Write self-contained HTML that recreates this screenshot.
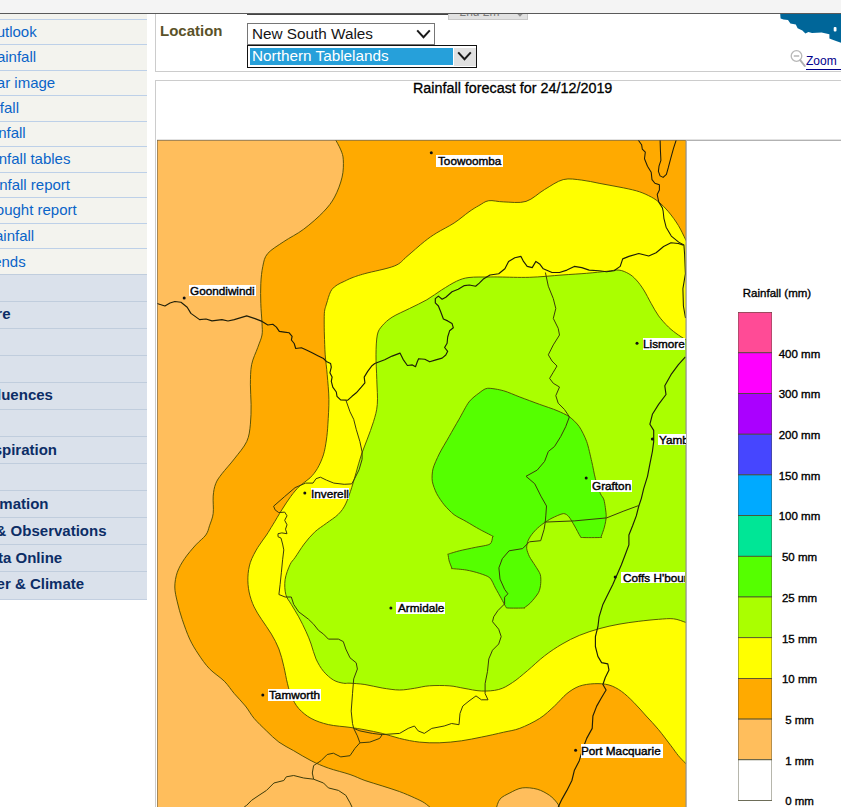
<!DOCTYPE html>
<html lang="en">
<head>
<meta charset="utf-8">
<title>Rainfall forecast</title>
<style>
html,body{margin:0;padding:0;background:#fff;}
body{width:841px;height:807px;position:relative;overflow:hidden;font-family:"Liberation Sans",Arial,sans-serif;}
.abs{position:absolute;}
#topbar{left:0;top:0;width:841px;height:13px;background:#f4f4f4;border-bottom:1px solid #5a5a5a;}
#side1{left:0;top:14px;width:147px;height:261px;background:#f3f3ee;}
#side2{left:0;top:275px;width:147px;height:324px;background:#dae1eb;border-bottom:1px solid #c3cfe0;}
.sl{position:absolute;left:0;width:147px;height:1px;background:#bdd0e8;}
.sl2{position:absolute;left:0;width:147px;height:1px;background:#c0cddd;}
.st{position:absolute;left:0;white-space:nowrap;font-size:15px;color:#0a64c8;line-height:18px;}
.sb{position:absolute;left:0;white-space:nowrap;font-size:15px;font-weight:bold;color:#0c2d66;line-height:18px;}
#locbox{left:155px;top:14px;width:700px;height:57px;border:1px solid #ccc;border-top:none;background:#fff;}
#mapbox{left:155px;top:80px;width:700px;height:740px;border:1px solid #ccc;background:#fff;}
#loc{left:160px;top:22px;font-size:15px;font-weight:bold;color:#5a5228;line-height:18px;}
.sel{position:absolute;box-sizing:border-box;background:#fff;font-size:15.3px;line-height:17px;color:#151515;white-space:nowrap;}
#title{left:413px;top:80px;font-size:14.35px;-webkit-text-stroke:0.3px #000;color:#000;line-height:16px;white-space:nowrap;}
.dot{position:absolute;width:2px;height:2px;background:#111;}
.lbl{position:absolute;background:#fff;font-size:11.3px;color:#000;white-space:nowrap;overflow:hidden;padding-left:1.4px;box-sizing:border-box;-webkit-text-stroke:0.4px #000;}
.lg{position:absolute;width:80px;text-align:center;font-size:11.5px;line-height:12px;color:#000;white-space:nowrap;-webkit-text-stroke:0.35px #000;}
.lbl span{display:inline-block;transform-origin:0 50%;transform:scaleX(1.04);}
</style>
</head>
<body>
<div id="topbar" class="abs"></div>

<div id="side1" class="abs"></div>
<div id="side2" class="abs"></div>
<div class="sl" style="top:19px"></div>
<div class="st" style="top:23px;left:auto;right:804.3px">outlook</div>
<div class="sl" style="top:44px"></div>
<div class="st" style="top:48px;left:auto;right:804.9px">rainfall</div>
<div class="sl" style="top:70px"></div>
<div class="st" style="top:74px;left:auto;right:785.8px">dar image</div>
<div class="sl" style="top:95px"></div>
<div class="st" style="top:99px;left:auto;right:822.0px">infall</div>
<div class="sl" style="top:121px"></div>
<div class="st" style="top:124px;left:auto;right:815.3px">ainfall</div>
<div class="sl" style="top:146px"></div>
<div class="st" style="top:150px;left:auto;right:770.6px">ainfall tables</div>
<div class="sl" style="top:172px"></div>
<div class="st" style="top:176px;left:auto;right:771.0px">ainfall report</div>
<div class="sl" style="top:197px"></div>
<div class="st" style="top:201px;left:auto;right:764.3px">rought report</div>
<div class="sl" style="top:223px"></div>
<div class="st" style="top:227px;left:auto;right:806.8px">rainfall</div>
<div class="sl" style="top:248px"></div>
<div class="st" style="top:253px;left:auto;right:815.3px">rends</div>
<div class="sl2" style="top:274px"></div>
<div class="sl2" style="top:301px"></div>
<div class="sb" style="top:305px;left:auto;right:830.5px">ture</div>
<div class="sl2" style="top:328px"></div>
<div class="sl2" style="top:355px"></div>
<div class="sl2" style="top:382px"></div>
<div class="sb" style="top:386px;left:auto;right:788.1px">fluences</div>
<div class="sl2" style="top:409px"></div>
<div class="sl2" style="top:436px"></div>
<div class="sb" style="top:441px;left:auto;right:784.0px">anspiration</div>
<div class="sl2" style="top:463px"></div>
<div class="sl2" style="top:490px"></div>
<div class="sb" style="top:495px;left:auto;right:792.5px">formation</div>
<div class="sl2" style="top:517px"></div>
<div class="sb" style="top:522px;left:auto;right:734.5px">s &amp; Observations</div>
<div class="sl2" style="top:544px"></div>
<div class="sb" style="top:549px;left:auto;right:778.8px">Data Online</div>
<div class="sl2" style="top:571px"></div>
<div class="sb" style="top:575px;left:auto;right:756.9px">ther &amp; Climate</div>

<div id="locbox" class="abs"></div>
<div id="mapbox" class="abs"></div>
<div id="loc" class="abs">Location</div>
<div id="title" class="abs">Rainfall forecast for 24/12/2019</div>


<!-- clipped controls at the top -->
<div class="abs" style="left:247px;top:14px;width:201px;height:1px;background:#444;"></div>
<div class="abs" style="left:448px;top:14px;width:80px;height:6px;box-sizing:border-box;background:#e1e1e1;border:1px solid #c8c8c8;border-top:none;overflow:hidden;">
  <div class="abs" style="left:10.5px;top:-8px;font-size:12px;line-height:12px;color:#7a7a7a;white-space:nowrap;">2nd 2m</div>
  <svg class="abs" style="left:66px;top:-3px" width="10" height="6" viewBox="0 0 10 6"><path d="M1 0.5 L5 4.5 L9 0.5" fill="none" stroke="#909090" stroke-width="1.6"/></svg>
</div>

<!-- state select -->
<div class="sel" style="left:247px;top:23px;width:188px;height:22px;border:1px solid #767676;">
  <span class="abs" style="left:4px;top:1px;">New South Wales</span>
  <svg class="abs" style="left:168px;top:5px" width="15" height="11" viewBox="0 0 15 11"><path d="M1.2 1.4 L7.5 8.2 L13.8 1.4" fill="none" stroke="#1a1a1a" stroke-width="2"/></svg>
</div>
<!-- district select (focused) -->
<div class="sel" style="left:247px;top:45px;width:230px;height:23px;border:1px solid #111;">
  <div class="abs" style="left:2px;top:2px;width:203px;height:17px;background:#26a0da;"></div>
  <div class="abs" style="left:206px;top:2px;width:22px;height:18px;background:#e1e1e1;"></div>
  <span class="abs" style="left:4px;top:1px;color:#fff;">Northern Tablelands</span>
  <svg class="abs" style="left:209.3px;top:5px" width="15" height="11" viewBox="0 0 15 11"><path d="M1.2 1.4 L7.5 8.2 L13.8 1.4" fill="none" stroke="#1a1a1a" stroke-width="2"/></svg>
</div>

<!-- thumbnail map fragment -->
<svg class="abs" style="left:775px;top:14px" width="66" height="34" viewBox="775 14 66 34">
  <path d="M780.2 14 L841 14 L841 42.8 L836 41 L832 39.6 L829.4 38.4 L829.4 34.2 L821.6 32.6 L812 33 L808.4 32 L805.4 33.6 L802.4 30.4 L797.6 28.2 L795.8 24.4 L790.4 23.4 L788 20 L783.5 19.6 L780.6 18.6 Z" fill="#006699"/>
  <rect x="833.7" y="27" width="2.8" height="4.6" rx="1" fill="#fff"/>
</svg>

<!-- zoom link -->
<svg class="abs" style="left:789px;top:48px" width="18" height="20" viewBox="0 0 18 20">
  <circle cx="7.5" cy="8" r="5.3" fill="#fff" stroke="#b8b8b8" stroke-width="1.3"/>
  <path d="M4.8 8 H10.2" stroke="#b0b0b0" stroke-width="1.4"/>
  <path d="M11.2 12.2 L15.8 18" stroke="#b0b0b0" stroke-width="2" stroke-linecap="round"/>
</svg>
<div class="abs" style="left:806px;top:54px;font-size:12px;line-height:14px;color:#00008b;white-space:nowrap;">Zoom</div>
<div class="abs" style="left:806px;top:68.5px;width:35px;height:1px;background:#00008b;"></div>

<svg class="abs" style="left:157px;top:140px" width="529" height="667" viewBox="157 140 529 667">
<rect x="157" y="140" width="529" height="667" fill="#ffbe5c"/>
<path d="M334.6 138.0C335.6 140.0 339.4 146.3 340.8 149.9C342.2 153.5 343.1 155.3 343.3 159.8C343.5 164.3 343.6 170.9 342.1 177.1C340.7 183.3 337.7 191.2 334.6 197.0C331.5 202.8 328.6 206.4 323.5 211.8C318.4 217.2 310.3 224.2 303.7 229.2C297.1 234.2 289.8 237.5 283.8 241.6C277.8 245.7 271.2 249.4 267.7 253.5C264.2 257.6 263.9 261.4 262.8 266.4C261.7 271.4 261.1 277.5 260.8 283.7C260.5 289.9 260.6 296.9 260.8 303.5C261.0 310.1 261.8 318.1 262.0 323.3C262.2 328.6 262.7 331.0 262.0 335.0C261.3 339.0 259.5 342.4 257.8 347.4C256.1 352.3 252.8 358.5 251.6 364.7C250.4 370.9 250.5 378.0 250.4 384.6C250.3 391.2 251.1 397.8 251.1 404.4C251.1 411.0 251.1 418.0 250.4 424.2C249.7 430.4 249.4 435.8 246.7 441.6C244.0 447.4 238.4 453.5 234.3 458.9C230.2 464.3 225.0 469.7 221.9 473.8C218.8 477.9 217.1 480.0 215.7 483.7C214.2 487.4 213.6 491.2 213.2 496.1C212.8 501.1 213.8 508.4 213.2 513.4C212.6 518.3 210.7 522.2 209.5 525.8C208.3 529.4 208.1 531.8 205.8 535.0C203.5 538.2 199.3 541.0 195.8 544.9C192.3 548.8 187.8 554.0 184.7 558.5C181.6 563.0 179.0 567.5 177.3 572.2C175.7 577.0 174.8 582.0 174.8 587.0C174.8 592.0 176.1 596.5 177.3 601.9C178.5 607.3 180.1 613.1 182.2 619.3C184.3 625.5 187.0 633.3 189.7 639.1C192.4 644.9 195.0 649.0 198.3 654.0C201.6 659.0 205.2 664.3 209.5 668.8C213.8 673.3 220.2 677.1 224.3 681.2C228.4 685.3 230.8 689.5 234.3 693.6C237.8 697.7 242.1 701.9 245.4 706.0C248.7 710.1 250.6 714.2 254.1 718.4C257.6 722.5 262.4 726.9 266.5 730.9C270.6 734.9 274.4 738.8 278.9 742.1C283.4 745.4 288.3 747.6 293.7 750.7C299.1 753.8 305.3 757.8 311.1 760.7C316.9 763.6 321.9 765.8 328.4 768.1C334.9 770.4 343.9 772.4 350.0 774.5C356.1 776.6 359.5 778.6 364.9 780.5C370.3 782.4 376.4 784.0 382.2 785.9C388.0 787.8 394.2 789.6 399.6 791.6C405.0 793.6 410.3 795.9 414.4 797.8C418.5 799.7 421.4 800.9 424.3 802.8C427.2 804.7 430.7 808.0 432.0 809.0L690.0 809.0L690.0 138.0Z" fill="#ffaa00" stroke="#4a4a00" stroke-width="0.9" stroke-linejoin="round"/>
<path d="M496.0 809.0C496.7 807.4 497.7 801.8 500.0 799.1C502.3 796.4 506.2 794.8 509.9 792.9C513.6 791.0 517.8 788.5 522.3 787.9C526.8 787.3 532.7 788.0 537.2 789.2C541.8 790.5 546.3 793.1 549.6 795.4C552.9 797.7 555.2 800.5 557.0 802.8C558.8 805.1 559.9 808.0 560.5 809.0Z" fill="#ffbe5c" stroke="#4a4a00" stroke-width="0.9" stroke-linejoin="round"/>
<path d="M688.0 244.0C687.6 243.2 687.0 242.2 685.4 239.1C683.8 236.0 681.2 230.1 678.4 225.5C675.6 220.9 671.8 215.7 668.5 211.8C665.2 207.9 661.9 204.6 658.6 201.9C655.3 199.2 652.4 197.5 648.7 195.7C645.0 193.8 641.2 192.2 636.3 190.8C631.3 189.4 625.2 188.2 619.0 187.0C612.8 185.8 605.3 184.5 599.1 183.3C592.9 182.2 587.8 180.7 581.8 180.1C575.8 179.5 569.4 178.0 563.2 179.6C557.0 181.2 550.8 185.9 544.6 189.5C538.4 193.1 532.8 199.3 526.0 201.4C519.2 203.5 509.9 202.0 503.7 201.9C497.5 201.8 492.9 200.1 488.8 200.7C484.7 201.3 482.2 203.8 478.9 205.6C475.6 207.4 473.1 208.9 469.0 211.8C464.9 214.7 459.5 219.5 454.1 223.0C448.7 226.5 441.7 229.8 436.7 232.9C431.7 236.0 429.2 237.7 424.3 241.6C419.4 245.5 411.9 252.3 407.0 256.4C402.1 260.4 401.6 263.0 394.6 265.9C387.6 268.8 372.0 271.6 364.9 273.6C357.8 275.6 355.4 276.5 352.0 277.8C348.6 279.1 347.1 280.0 344.6 281.2C342.1 282.4 339.3 283.5 337.2 284.9C335.1 286.2 333.3 287.7 332.0 289.3C330.7 290.9 330.1 292.6 329.4 294.5C328.6 296.4 328.1 298.5 327.5 300.5C326.9 302.5 326.2 304.5 325.7 306.4C325.2 308.2 324.8 309.0 324.5 311.6C324.2 314.2 324.2 318.1 324.2 322.0C324.2 325.9 324.2 329.5 324.4 335.0C324.6 340.5 324.7 348.2 325.2 354.8C325.7 361.4 326.6 367.3 327.2 374.7C327.8 382.1 328.8 391.1 328.9 399.4C329.0 407.6 328.3 417.4 327.9 424.2C327.5 431.0 327.1 434.9 326.4 440.0C325.6 445.1 324.9 450.2 323.4 454.9C321.9 459.6 319.7 464.5 317.5 468.3C315.3 472.1 313.0 474.9 310.0 477.9C307.0 480.9 302.8 483.0 299.6 486.1C296.4 489.2 293.7 492.5 290.7 496.5C287.7 500.5 284.8 505.2 281.8 509.9C278.8 514.6 275.4 520.6 272.8 524.8C270.2 529.0 269.0 531.2 266.5 535.0C264.0 538.8 260.5 542.9 257.8 547.4C255.1 551.9 252.1 557.3 250.4 562.3C248.8 567.2 248.1 572.1 247.9 577.1C247.7 582.1 248.1 587.0 249.1 592.0C250.1 597.0 252.0 602.4 254.1 606.9C256.2 611.4 258.6 614.8 261.5 619.3C264.4 623.8 268.5 629.1 271.4 634.1C274.3 639.1 276.8 643.6 278.9 649.0C281.0 654.4 282.4 660.6 283.8 666.4C285.2 672.2 286.2 678.8 287.5 683.7C288.8 688.7 289.4 692.0 291.3 696.1C293.2 700.2 295.4 704.8 298.7 708.5C302.0 712.2 306.2 715.7 311.1 718.4C316.1 721.1 321.9 723.1 328.4 724.6C334.9 726.1 343.9 726.5 350.0 727.4C356.1 728.3 359.5 728.8 364.9 729.8C370.3 730.8 376.4 732.0 382.2 733.4C388.0 734.8 393.4 736.9 399.6 738.4C405.8 739.9 412.8 741.4 419.4 742.1C426.0 742.8 432.2 743.0 439.2 742.8C446.2 742.6 454.5 741.8 461.5 740.8C468.5 739.8 474.4 738.5 481.4 737.1C488.4 735.7 497.3 733.7 503.7 732.2C510.1 730.7 513.8 730.6 519.8 728.3C525.8 726.0 533.9 722.1 539.7 718.4C545.5 714.7 550.0 710.1 554.5 706.0C559.0 701.9 562.8 696.9 566.9 693.6C571.0 690.3 574.8 687.9 579.3 686.2C583.8 684.6 589.2 683.9 594.2 683.7C599.2 683.5 604.5 683.7 609.0 685.0C613.5 686.3 617.3 688.4 621.4 691.3C625.5 694.2 629.7 698.3 633.8 702.4C637.9 706.5 642.1 711.5 646.2 716.0C650.3 720.5 654.5 724.7 658.6 729.7C662.7 734.7 667.7 741.5 671.0 745.8C674.3 750.1 676.0 752.8 678.4 755.7C680.8 758.6 683.8 761.4 685.4 763.1C687.0 764.8 687.6 765.5 688.0 766.0L690.0 766.0L690.0 244.0Z" fill="#ffff00" stroke="#4a4a00" stroke-width="0.9" stroke-linejoin="round"/>
<path d="M688.0 341.0C686.4 340.0 681.6 337.3 678.4 335.0C675.1 332.7 671.8 330.3 668.5 327.1C665.2 323.9 661.5 319.8 658.6 315.9C655.7 312.0 653.7 307.8 651.2 303.5C648.7 299.2 646.2 293.8 643.7 289.9C641.2 286.0 638.8 282.7 636.3 280.0C633.8 277.3 631.8 275.4 628.9 273.8C626.0 272.2 622.7 270.5 619.0 270.1C615.3 269.7 612.0 270.8 606.6 271.3C601.2 271.8 594.1 272.7 586.7 273.3C579.3 273.9 571.5 274.3 562.0 275.0C552.5 275.7 540.0 277.0 529.7 277.3C519.4 277.6 506.8 277.1 500.0 277.0C493.2 276.9 494.0 276.9 488.8 277.0C483.6 277.1 474.4 276.8 469.0 277.5C463.6 278.2 461.2 279.1 456.6 281.2C452.1 283.3 446.7 286.8 441.7 289.9C436.7 293.0 432.2 296.7 426.8 299.8C421.4 302.9 415.3 305.6 409.5 308.5C403.7 311.4 396.7 314.3 392.1 317.2C387.6 320.1 384.7 322.8 382.2 325.8C379.7 328.8 378.3 330.2 377.3 335.0C376.3 339.8 376.1 347.4 376.0 354.8C375.9 362.2 376.6 371.3 376.8 379.6C377.0 387.9 377.9 397.4 377.3 404.4C376.8 411.4 375.2 415.9 373.5 421.7C371.8 427.5 369.3 433.6 367.3 439.1C365.3 444.6 363.2 449.3 361.3 454.9C359.4 460.5 357.7 467.2 356.1 472.7C354.5 478.1 353.4 482.4 351.7 487.6C350.0 492.8 347.9 499.4 345.7 503.9C343.5 508.3 341.5 511.1 338.3 514.3C335.1 517.5 330.4 520.3 326.4 523.3C322.4 526.3 318.2 528.7 314.5 532.2C310.8 535.7 307.3 539.9 304.1 544.1C300.9 548.3 297.5 554.1 295.1 557.5C292.8 560.9 291.7 561.0 290.0 564.7C288.3 568.4 285.8 574.6 285.1 579.6C284.4 584.6 284.8 590.4 285.8 594.5C286.8 598.6 289.2 600.7 291.3 604.4C293.4 608.1 296.2 612.2 298.7 616.8C301.2 621.3 304.0 627.2 306.1 631.7C308.2 636.2 309.5 639.5 311.1 644.0C312.8 648.5 313.9 654.4 316.0 658.9C318.1 663.4 320.6 667.8 323.5 671.3C326.4 674.8 330.1 678.0 333.4 680.0C336.7 682.0 340.5 682.7 343.3 683.2C346.1 683.7 346.4 683.0 350.0 683.2C353.6 683.4 359.5 683.7 364.9 684.5C370.3 685.3 376.4 687.1 382.2 688.0C388.0 688.9 394.2 690.0 399.6 690.0C405.0 690.0 409.4 689.0 414.4 688.3C419.3 687.6 423.5 686.2 429.3 685.8C435.1 685.4 443.3 685.4 449.1 685.8C454.9 686.2 458.6 687.4 464.0 688.3C469.4 689.2 475.6 690.8 481.4 691.0C487.2 691.2 493.5 690.9 498.7 689.5C503.9 688.1 507.6 685.7 512.4 682.6C517.2 679.5 521.9 675.3 527.3 670.8C532.7 666.3 538.8 660.2 544.6 655.8C550.4 651.3 556.2 647.5 562.0 644.1C567.8 640.7 573.1 638.0 579.3 635.4C585.5 632.8 592.5 630.6 599.1 628.7C605.7 626.8 612.4 625.4 619.0 624.2C625.6 623.0 632.2 622.1 638.8 621.3C645.4 620.5 652.8 619.7 658.6 619.3C664.4 618.9 669.0 618.3 673.5 618.8C678.0 619.3 683.0 621.5 685.4 622.3C687.8 623.1 687.6 623.3 688.0 623.5L690.0 623.5L690.0 341.0Z" fill="#aaff00" stroke="#4a4a00" stroke-width="0.9" stroke-linejoin="round"/>
<path d="M487.5 388.3C490.8 388.0 499.4 389.6 503.7 390.8C508.0 392.0 515.0 395.2 519.8 397.0C524.6 398.8 534.7 402.6 539.7 404.4C544.7 406.2 553.0 408.9 557.0 410.6C561.0 412.3 566.4 414.7 569.4 416.8C572.4 418.9 577.0 423.4 579.3 426.7C581.6 430.0 585.0 437.0 586.7 441.6C588.4 446.2 590.5 456.5 591.7 461.4C592.9 466.3 594.2 474.4 595.4 478.7C596.6 483.0 599.3 490.8 600.4 493.6C601.5 496.4 603.2 497.0 604.0 500.0C604.8 503.0 606.1 512.2 606.2 515.8C606.3 519.4 605.1 524.3 604.4 527.1C603.7 529.9 601.7 535.1 601.2 536.5C600.7 537.9 603.1 537.4 600.6 537.5C598.1 537.6 585.2 537.7 582.5 537.5C579.8 537.3 581.3 537.7 580.2 536.2C579.1 534.7 576.1 528.6 574.6 526.0C573.1 523.4 570.5 518.6 569.0 516.9C567.5 515.2 565.6 513.4 563.3 513.6C561.0 513.8 554.7 516.8 552.0 518.1C549.3 519.4 545.1 522.2 543.0 523.7C540.9 525.2 537.9 527.7 536.2 529.4C534.5 531.1 531.6 534.5 530.5 536.2C529.4 537.9 528.1 540.1 527.6 541.8C527.1 543.5 526.5 546.6 526.7 548.6C526.9 550.6 528.3 554.2 529.4 556.5C530.5 558.8 533.6 563.1 535.1 565.5C536.6 567.9 539.6 572.2 540.3 574.6C541.0 577.0 540.9 581.2 540.7 583.6C540.5 586.0 539.9 590.0 538.5 592.6C537.1 595.2 532.4 600.8 530.5 602.8C528.6 604.8 525.4 606.9 524.5 607.6C523.6 608.3 526.0 607.9 523.8 608.0C521.6 608.1 510.3 608.2 507.9 608.0C505.5 607.8 506.6 607.9 505.7 606.6C504.8 605.3 502.6 600.8 501.2 598.3C499.8 595.8 497.0 590.8 495.5 588.1C494.0 585.4 492.0 579.9 489.9 577.9C487.8 575.9 482.9 574.5 479.7 573.4C476.5 572.3 469.8 570.6 466.2 570.0C462.6 569.4 454.4 568.8 452.5 568.6C450.6 568.4 452.3 569.2 451.9 568.2C451.5 567.2 449.7 562.8 449.2 561.0C448.7 559.2 448.2 555.5 448.1 554.6C448.0 553.7 447.1 554.5 448.6 554.0C450.1 553.5 455.9 551.7 459.4 550.8C462.9 549.9 471.1 548.3 475.2 547.4C479.3 546.5 487.6 545.5 489.9 544.1C492.2 542.7 492.3 537.9 492.6 536.8C492.9 535.7 494.1 537.0 492.4 536.0C490.7 535.0 483.2 531.3 479.7 529.4C476.2 527.5 469.6 523.5 466.2 521.5C462.8 519.5 457.0 516.9 454.1 514.7C451.2 512.5 446.5 507.6 444.2 504.8C441.9 502.0 438.3 496.7 436.7 493.6C435.1 490.5 432.8 484.5 432.3 481.2C431.8 477.9 432.1 472.4 433.0 468.8C433.9 465.2 437.1 458.3 439.2 454.0C441.3 449.7 446.5 441.2 449.1 436.6C451.7 432.0 456.3 423.9 459.0 419.3C461.7 414.7 466.3 405.4 469.0 401.9C471.7 398.4 476.4 395.0 478.9 393.2C481.4 391.4 484.2 388.6 487.5 388.3Z" fill="#55ff00" stroke="#4a4a00" stroke-width="0.9" stroke-linejoin="round"/>
<polyline points="157.0,303.5 164.9,306.0 170.0,303.0 174.8,301.5 181.0,302.3 187.2,307.2 190.9,313.4 199.6,319.6 206.0,319.0 212.0,320.9 221.9,319.6 228.0,321.0 234.3,319.6 246.7,315.9 255.0,318.6 262.1,321.4 267.8,325.0 272.8,324.3 276.4,327.1 279.3,331.4 284.3,332.1 289.2,332.8 292.1,336.4 291.4,340.0 294.2,343.5 295.7,348.5 301.4,347.8 306.4,350.0 312.1,352.8 317.8,355.7 323.5,358.5 326.3,361.4 330.6,363.5 331.3,367.1 329.9,372.8 332.1,377.1 331.3,381.3 332.8,387.1 336.3,392.0 337.0,396.3 340.6,399.9 347.8,400.2 352.0,396.3 356.3,392.8 361.3,387.1 364.9,382.8 364.2,377.1 367.7,371.4 372.0,365.7 374.8,363.5 384.7,359.8 392.1,356.1 400.0,353.1 403.1,359.3 407.4,365.5 412.4,364.9 415.5,366.7 417.3,361.8 418.6,358.7 424.8,359.3 429.7,361.8 435.9,359.9 442.1,358.1 445.8,355.0 447.7,351.3 444.6,347.5 447.1,343.2 447.7,337.0 449.6,330.8 453.3,327.7 452.0,323.4 447.7,320.9 443.4,319.0 440.9,312.2 438.4,306.0 435.3,302.9 435.3,298.6 438.4,296.1 442.1,299.2 445.8,297.3 452.0,291.8 458.2,289.3 464.4,285.6 469.4,285.0 475.6,286.2 479.3,283.1 483.8,278.7 490.0,275.0 498.7,273.8 504.9,268.8 508.6,261.4 514.8,257.7 521.0,256.4 523.5,261.4 527.2,266.4 532.2,267.6 535.9,261.4 539.6,263.9 543.3,268.8 552.0,272.5 559.5,272.5 566.9,270.1 574.3,266.4 581.8,267.6 589.2,270.1 599.1,270.8 606.6,271.8 614.0,270.8 620.2,266.4 622.7,258.9 628.9,256.4 638.8,253.5 648.7,256.0 656.1,252.7 663.6,246.5 671.0,242.8 678.4,243.5 683.4,245.3" fill="none" stroke="#1e1e08" stroke-width="1.15" stroke-linejoin="round"/>
<polyline points="638.2,140.0 641.6,144.7 642.3,149.1 645.3,152.1 644.5,158.8 647.5,166.2 651.2,172.2 652.0,179.6 654.9,183.3 659.4,184.8 659.4,190.0 657.2,194.5 658.7,201.9 662.4,207.9 663.1,210.8 663.9,218.3 666.1,227.2 671.3,236.1 678.7,242.1 683.9,245.0 684.6,254.0 685.4,273.8 682.9,288.7 683.4,306.0 685.5,318.0" fill="none" stroke="#1e1e08" stroke-width="1.05" stroke-linejoin="round"/>
<polyline points="660.1,140.0 660.4,149.9 660.9,160.3 659.0,166.2 658.4,171.4 660.1,175.9 663.1,177.4 666.4,174.4 668.3,167.7 670.6,158.8 673.5,148.4 676.2,140.0" fill="none" stroke="#1e1e08" stroke-width="1.05" stroke-linejoin="round"/>
<polyline points="685.4,356.8 678.4,364.7 671.0,374.7 664.8,385.8 666.0,394.5 658.6,404.4 652.4,414.3 649.9,424.2 653.7,430.4 653.7,441.6 652.4,451.5 649.9,463.9 647.5,476.3 643.7,488.7 641.3,498.6 638.8,506.0 636.3,515.9 632.6,525.8 628.9,535.0 628.9,544.9 625.2,554.8 621.4,564.7 616.5,575.9 612.8,584.6 607.8,594.5 602.9,604.4 599.1,616.8 597.9,626.7 595.4,636.6 595.4,646.5 597.9,656.4 601.6,662.6 607.8,663.9 609.0,670.1 605.3,677.5 602.9,684.5 606.1,690.0 601.6,697.5 596.7,706.1 592.9,716.0 592.2,728.4 586.7,738.4 583.0,748.3 579.3,760.7 574.3,770.6 571.9,780.5 566.9,790.4 562.0,799.1 558.2,807.0" fill="none" stroke="#1e1e08" stroke-width="1.15" stroke-linejoin="round"/>
<polyline points="545.4,272.5 548.3,286.2 553.3,298.6 555.8,308.5 553.3,318.4 558.2,328.3 559.5,335.0 553.3,344.9 548.3,354.8 552.0,361.0 557.0,366.0 553.3,372.2 549.6,378.4 553.3,383.3 559.5,387.0 555.8,395.7 558.2,403.2 564.4,409.4 569.4,416.8 565.7,426.7 560.7,436.6 554.5,446.5 548.3,451.5 544.6,461.4 537.2,470.1 526.0,476.3 534.7,483.7 540.9,496.1 546.5,506.0 545.8,515.9 545.2,522.6 544.1,529.4 540.7,540.7 529.4,541.8 527.2,544.0 522.6,548.6 509.1,550.8 502.3,558.7 498.9,567.8 500.0,579.1 504.6,589.3 507.9,593.8 504.6,597.2 504.6,603.9 497.8,610.7 493.7,616.8 492.5,621.7 498.7,629.2 501.2,636.6 498.7,644.0 492.5,650.2 488.8,658.9 487.5,671.3 485.1,683.7 485.1,693.6 488.0,699.8 481.4,699.8 476.0,695.9 469.0,701.0 462.8,706.0 460.0,713.4 459.0,724.7 451.6,723.5 444.2,726.0 431.8,728.4 424.3,733.4 418.2,730.9 414.4,726.0 408.2,728.4 399.6,733.4 382.2,734.6" fill="none" stroke="#3c3c0a" stroke-width="1.0" stroke-linejoin="round"/>
<polyline points="544.6,522.1 574.3,520.9 606.6,517.9 623.9,511.0 638.8,505.5" fill="none" stroke="#3c3c0a" stroke-width="1.0" stroke-linejoin="round"/>
<polyline points="345.8,399.9 350.0,411.8 353.7,419.3 356.2,429.2 359.9,441.6 362.1,451.9 362.1,459.3 359.1,469.7 354.6,478.7 351.7,483.9 344.2,484.3 333.8,483.1 326.4,480.1 320.4,477.2 316.0,478.7 313.0,483.1 305.6,483.1 295.1,487.6 284.7,496.5 273.6,506.2 275.1,509.9 278.8,512.6 284.7,512.1 287.0,515.8 284.7,520.3 287.0,524.8 285.5,529.2 287.0,533.7 281.8,532.9 278.0,533.7 278.0,536.7 281.0,538.1 282.6,544.0 283.8,549.9 282.6,559.8 281.4,572.2 280.1,584.6 278.9,594.5 285.1,597.0 291.3,597.0 293.7,604.4 298.7,611.8 308.6,619.3 313.6,624.2 318.5,630.4 323.5,634.1 328.4,639.1 338.4,639.1 343.3,641.6 345.8,649.0 350.0,657.8 356.2,662.8 357.4,669.0 353.7,678.9 352.5,693.7 351.2,711.1 352.5,723.5 353.7,728.4 359.9,730.9 372.3,733.4 382.2,734.6 379.7,738.4 369.8,742.1 359.9,742.8 357.4,735.9 353.7,728.4" fill="none" stroke="#3c3c0a" stroke-width="1.0" stroke-linejoin="round"/>
<polyline points="359.9,742.8 355.0,748.3 350.0,755.7 340.8,756.9 333.4,753.2 327.2,754.5 321.0,760.7 313.6,765.6 312.3,773.0 313.6,779.2 303.7,778.0 293.7,775.5 286.3,776.8 283.8,780.5 273.9,783.0 266.5,790.4 259.0,795.3 251.6,800.3 246.7,805.3 244.2,807.0" fill="none" stroke="#3c3c0a" stroke-width="1.0" stroke-linejoin="round"/>
<polyline points="313.6,779.2 323.5,783.0 328.4,787.9 338.4,790.4 345.8,795.3 350.0,802.8 352.0,807.0" fill="none" stroke="#3c3c0a" stroke-width="1.0" stroke-linejoin="round"/>
<circle cx="431.3" cy="152.8" r="1.5" fill="#111"/>
<circle cx="184.2" cy="298.1" r="1.5" fill="#111"/>
<circle cx="637.0" cy="343.2" r="1.5" fill="#111"/>
<circle cx="652.4" cy="439.1" r="1.5" fill="#111"/>
<circle cx="586.2" cy="478.0" r="1.5" fill="#111"/>
<circle cx="304.8" cy="493.1" r="1.5" fill="#111"/>
<circle cx="615.2" cy="577.1" r="1.5" fill="#111"/>
<circle cx="390.9" cy="608.1" r="1.5" fill="#111"/>
<circle cx="262.8" cy="694.9" r="1.5" fill="#111"/>
<circle cx="575.6" cy="750.2" r="1.5" fill="#111"/>
</svg>
<div class="abs" style="left:157px;top:139px;width:684px;height:1px;background:#e2e2e2"></div>
<div class="abs" style="left:686px;top:140px;width:155px;height:1px;background:#b2b2b2"></div>
<div class="abs" style="left:157px;top:140px;width:529px;height:1px;background:rgba(110,100,80,0.6)"></div>
<div class="abs" style="left:157px;top:140px;width:1px;height:667px;background:rgba(110,100,80,0.6)"></div>
<div class="abs" style="left:685px;top:140px;width:1px;height:667px;background:rgba(140,140,140,0.5)"></div>
<div class="abs" style="left:686px;top:140px;width:1px;height:667px;background:#b4b4b4"></div>
<div class="lbl" style="left:435.9px;top:155.2px;width:67.5px;height:11.5px;line-height:12.7px;padding-left:2.15px"><span>Toowoomba</span></div>
<div class="lbl" style="left:188.8px;top:284.9px;width:67.0px;height:11.6px;line-height:12.8px;padding-left:1.5px"><span>Goondiwindi</span></div>
<div class="lbl" style="left:642.8px;top:338.3px;width:42.7px;height:11.5px;line-height:12.7px;padding-left:0.3px"><span>Lismore</span></div>
<div class="lbl" style="left:657.5px;top:433.6px;width:28.0px;height:11.8px;line-height:13.0px;padding-left:1.65px"><span>Yamba</span></div>
<div class="lbl" style="left:591.1px;top:480.2px;width:40.6px;height:11.6px;line-height:12.8px;padding-left:1.0px"><span>Grafton</span></div>
<div class="lbl" style="left:310.5px;top:487.6px;width:38.6px;height:11.6px;line-height:12.8px;padding-left:0.4px"><span>Inverell</span></div>
<div class="lbl" style="left:620.7px;top:571.7px;width:64.8px;height:11.7px;line-height:12.9px;padding-left:1.95px"><span>Coffs H'bour</span></div>
<div class="lbl" style="left:396.3px;top:602.4px;width:48.4px;height:11.9px;line-height:13.1px;padding-left:1.3px"><span>Armidale</span></div>
<div class="lbl" style="left:267.7px;top:689.2px;width:53.3px;height:11.5px;line-height:12.7px;padding-left:1.75px"><span>Tamworth</span></div>
<div class="lbl" style="left:580.7px;top:744.3px;width:82.0px;height:13.9px;line-height:15.2px;padding-left:0.3px"><span>Port Macquarie</span></div>
<div class="abs" style="left:738px;top:312.1px;width:34px;height:488.4px;border:1px solid #555;box-sizing:border-box;background:#fff;"></div>
<svg class="abs" style="left:738px;top:312px" width="34" height="490" viewBox="738 312 34 490">
<rect x="738" y="312.1" width="34" height="40.7" fill="#ff4b96" stroke="#4a4a30" stroke-width="0.8"/>
<rect x="738" y="352.8" width="34" height="40.7" fill="#ff00ff" stroke="#4a4a30" stroke-width="0.8"/>
<rect x="738" y="393.5" width="34" height="40.7" fill="#aa00ff" stroke="#4a4a30" stroke-width="0.8"/>
<rect x="738" y="434.2" width="34" height="40.7" fill="#4646ff" stroke="#4a4a30" stroke-width="0.8"/>
<rect x="738" y="474.9" width="34" height="40.7" fill="#00aaff" stroke="#4a4a30" stroke-width="0.8"/>
<rect x="738" y="515.6" width="34" height="40.7" fill="#00e696" stroke="#4a4a30" stroke-width="0.8"/>
<rect x="738" y="556.3" width="34" height="40.7" fill="#55ff00" stroke="#4a4a30" stroke-width="0.8"/>
<rect x="738" y="597.0" width="34" height="40.7" fill="#aaff00" stroke="#4a4a30" stroke-width="0.8"/>
<rect x="738" y="637.7" width="34" height="40.7" fill="#ffff00" stroke="#4a4a30" stroke-width="0.8"/>
<rect x="738" y="678.4" width="34" height="40.7" fill="#ffaa00" stroke="#4a4a30" stroke-width="0.8"/>
<rect x="738" y="719.1" width="34" height="40.7" fill="#ffbe5c" stroke="#4a4a30" stroke-width="0.8"/>
<rect x="738" y="759.8" width="34" height="40.7" fill="#ffffff" stroke="#4a4a30" stroke-width="0.8"/>
</svg>
<div class="lg" style="left:759.5px;top:347.6px">400 mm</div>
<div class="lg" style="left:759.5px;top:388.3px">300 mm</div>
<div class="lg" style="left:759.5px;top:429.0px">200 mm</div>
<div class="lg" style="left:759.5px;top:469.7px">150 mm</div>
<div class="lg" style="left:759.5px;top:510.4px">100 mm</div>
<div class="lg" style="left:759.5px;top:551.1px">50 mm</div>
<div class="lg" style="left:759.5px;top:591.8px">25 mm</div>
<div class="lg" style="left:759.5px;top:632.5px">15 mm</div>
<div class="lg" style="left:759.5px;top:673.2px">10 mm</div>
<div class="lg" style="left:759.5px;top:713.9px">5 mm</div>
<div class="lg" style="left:759.5px;top:754.6px">1 mm</div>
<div class="lg" style="left:759.5px;top:795.3px">0 mm</div>
<div class="lg" style="left:737px;top:287.2px">Rainfall (mm)</div>
</body>
</html>
